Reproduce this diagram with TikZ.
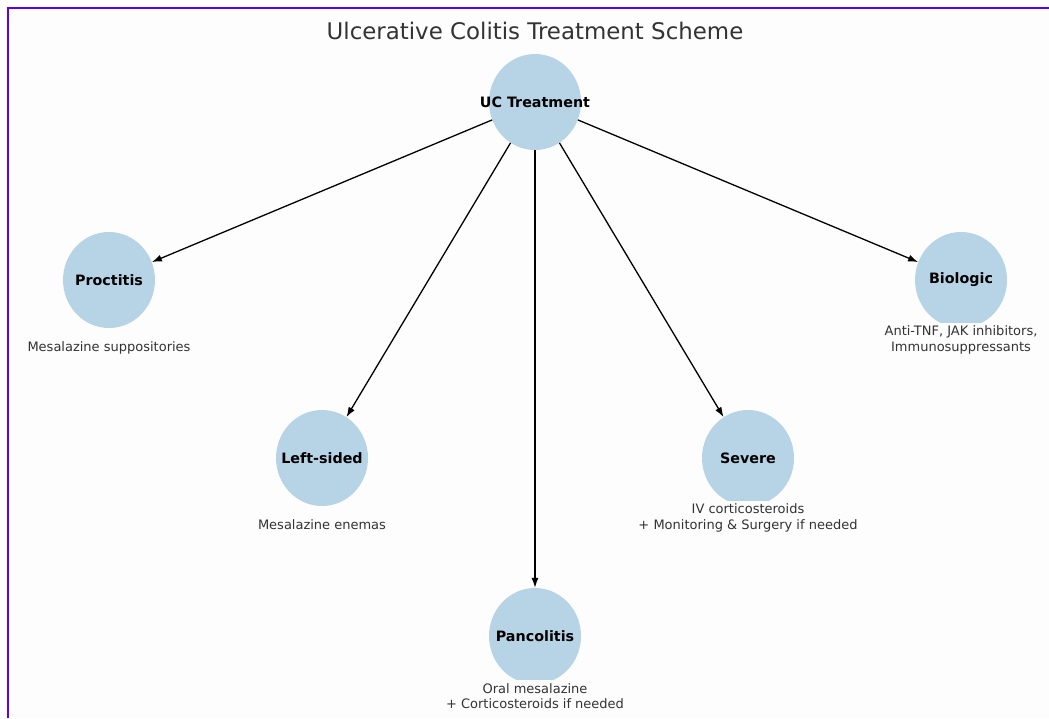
\documentclass[tikz,border=0pt]{standalone}
\usepackage{fontspec}
\setmainfont{DejaVu Sans}
\usetikzlibrary{shapes.geometric,arrows.meta}
\definecolor{nodeblue}{RGB}{183,212,230}
\definecolor{framepurple}{RGB}{88,0,255}
\definecolor{textgray}{RGB}{51,51,51}
\definecolor{canvas}{RGB}{253,253,253}

\begin{document}
\begin{tikzpicture}[
  x=1pt, y=-1pt,
  stage/.style={ellipse, fill=nodeblue, minimum width=92pt, minimum height=96pt, inner sep=0pt},
  stagename/.style={font=\fontsize{14.3}{16}\selectfont\bfseries, text=black},
  therapy/.style={fill=canvas, text=textgray, align=center, font=\fontsize{13}{15.5}\selectfont, inner sep=3pt},
  link/.style={-{Latex[length=10pt,width=7pt]}, line width=1.3pt}
  ]
  \useasboundingbox (0,0) rectangle (1049,718);

  % Canvas and frame
  \fill[white] (0,0) rectangle (1049,718);
  \fill[canvas] (8,8) rectangle (1049,718);
  \draw[framepurple, line width=2.6pt] (8,718) -- (8,8) -- (1049,8);

  % Title
  \node[font=\fontsize{22.9}{27}\selectfont, text=textgray] (title) at (535,31) {Ulcerative Colitis Treatment Scheme};

  % Define nodes
  \node[stage, label={[stagename]center:UC Treatment}] (uc) at (535,102) {};
  \node[stage, label={[stagename]center:Proctitis}] (proctitis) at (109,280) {};
  \node[stage, label={[stagename]center:Left-sided}] (leftsided) at (322,458) {};
  \node[stage, label={[stagename]center:Pancolitis}] (pancolitis) at (535,636) {};
  \node[stage, label={[stagename]center:Severe}] (severe) at (748,458) {};
  \node[stage, label={[stagename]center:\raisebox{-1pt}{Biologic}}] (biologic) at (961,280) {};

  % Treatment texts
  \node[therapy] (proctitistx) at (109,348) {Mesalazine suppositories};
  \node[therapy] (leftsidedtx) at (322,525) {Mesalazine enemas};
  \node[therapy] (pancolitistx) at (535,696) {Oral mesalazine\\+ Corticosteroids if needed};
  \node[therapy] (severetx) at (748,518) {IV corticosteroids\\+ Monitoring \& Surgery if needed};
  \node[therapy] (biologictx) at (961,340) {Anti-TNF, JAK inhibitors,\\Immunosuppressants};

  % Draw arrows from UC Treatment
  \draw[link] (uc) -- (proctitis);
  \draw[link] (uc) -- (leftsided);
  \draw[link] (uc) -- (pancolitis);
  \draw[link] (uc) -- (severe);
  \draw[link] (uc) -- (biologic);
\end{tikzpicture}
\end{document}
